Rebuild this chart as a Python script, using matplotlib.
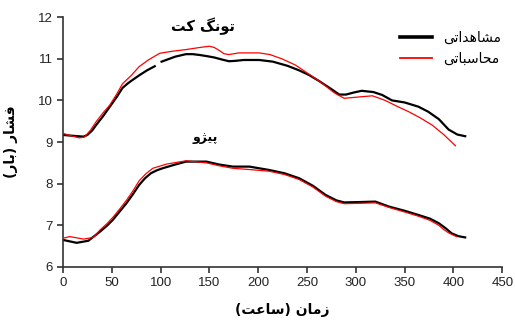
import numpy as np
import matplotlib
matplotlib.use("Agg")
import matplotlib.pyplot as plt

plt.rcParams['font.family'] = ['Liberation Sans', 'DejaVu Sans']

# Persian labels written in visual (shaped, left-to-right) order because
# matplotlib does no Arabic shaping / bidi on its own
xlabel_txt = "(\ufe96\ufecb\ufe8e\ufeb3) \ufee5\ufe8e\ufee3\ufeaf"       # زمان (ساعت)
ylabel_txt = "(\ufead\ufe8e\ufe91) \ufead\ufe8e\ufeb8\ufed3"              # فشار (بار)
obs_label = "\ufef0\ufe97\ufe8d\ufeaa\ufeeb\ufe8e\ufeb8\ufee3"           # مشاهداتی
calc_label = "\ufef0\ufe97\ufe8e\ufe92\ufeb3\ufe8e\ufea4\ufee3"          # محاسباتی
top_name = "\ufe96\ufb90 \ufb93\ufee7\ufeee\ufe97"                        # تونگ کت
bottom_name = "\ufeed\ufb8b\ufef4\ufb58"                                  # پیژو

# upper pair of curves
top_obs_x = [0, 10, 21, 25, 30, 34, 41, 48, 55, 61, 66, 70, 78, 86, 94, 97, 101, 108,
             115, 126, 133, 140, 148, 155, 163, 170, 177, 185, 201, 215, 230, 242, 252,
             262, 275, 283, 290, 298, 306, 318, 327, 337, 350, 364, 374, 385, 395, 404, 412]
top_obs_y = [9.17, 9.15, 9.13, 9.17, 9.28, 9.41, 9.62, 9.85, 10.08, 10.3, 10.4, 10.47,
             10.6, 10.72, 10.82, np.nan, 10.93, 10.99, 11.05, 11.11, 11.11, 11.09, 11.06,
             11.03, 10.98, 10.94, 10.95, 10.97, 10.97, 10.93, 10.83, 10.72, 10.61, 10.47,
             10.27, 10.14, 10.14, 10.19, 10.23, 10.2, 10.13, 10.0, 9.95, 9.85, 9.73,
             9.55, 9.3, 9.18, 9.14]
top_calc_x = [0, 8, 17, 22, 28, 34, 41, 48, 55, 61, 70, 78, 88, 99, 112, 126, 140, 150,
              155, 160, 165, 170, 180, 191, 201, 212, 224, 238, 252, 265, 278, 288,
              302, 317, 330, 342, 354, 366, 378, 390, 402]
top_calc_y = [9.21, 9.15, 9.1, 9.12, 9.28, 9.49, 9.7, 9.89, 10.15, 10.4, 10.6, 10.81,
              10.98, 11.13, 11.18, 11.22, 11.27, 11.3, 11.27, 11.2, 11.12, 11.1, 11.14,
              11.14, 11.14, 11.1, 11.0, 10.85, 10.63, 10.42, 10.18, 10.05, 10.08, 10.11,
              10.0, 9.86, 9.73, 9.58, 9.41, 9.18, 8.91]

# lower pair of curves
bot_obs_x = [0, 14, 26, 32, 38, 45, 51, 58, 65, 72, 78, 84, 90, 96, 102, 115, 126, 147,
             160, 174, 191, 211, 227, 242, 256, 269, 280, 288, 305, 320, 334, 350,
             364, 376, 385, 392, 398, 405, 412]
bot_obs_y = [6.65, 6.58, 6.63, 6.74, 6.85, 6.99, 7.13, 7.33, 7.53, 7.76, 7.97, 8.13,
             8.25, 8.32, 8.37, 8.46, 8.53, 8.53, 8.46, 8.41, 8.41, 8.33, 8.25, 8.13,
             7.95, 7.73, 7.6, 7.55, 7.56, 7.57, 7.45, 7.35, 7.25, 7.16, 7.05, 6.93,
             6.81, 6.74, 6.71]
bot_calc_x = [0, 7, 21, 31, 38, 45, 51, 58, 65, 72, 78, 85, 92, 106, 126, 147, 160, 174,
              191, 211, 227, 242, 256, 269, 280, 288, 305, 320, 334, 350, 364, 376,
              385, 390, 395, 403]
bot_calc_y = [6.69, 6.73, 6.67, 6.71, 6.89, 7.04, 7.19, 7.39, 7.6, 7.84, 8.07, 8.24,
              8.37, 8.47, 8.55, 8.5, 8.43, 8.37, 8.34, 8.3, 8.22, 8.1, 7.92, 7.7, 7.57,
              7.52, 7.53, 7.54, 7.43, 7.32, 7.22, 7.12, 7.0, 6.9, 6.82, 6.73]

fig = plt.figure(figsize=(5.15, 3.35), dpi=100)
ax = fig.add_axes([0.1223, 0.203, 0.853, 0.746])

ax.plot(top_obs_x, top_obs_y, color='black', lw=1.6, zorder=2, label=obs_label)
ax.plot(bot_obs_x, bot_obs_y, color='black', lw=1.6, zorder=2)
ax.plot(top_calc_x, top_calc_y, color='#ff0000', lw=0.9, zorder=3, label=calc_label)
ax.plot(bot_calc_x, bot_calc_y, color='#ff0000', lw=0.9, zorder=3)

ax.text(143, 11.78, top_name, ha='center', va='center', fontsize=10.5,
        fontweight='bold', family=['DejaVu Sans'])
ax.text(146, 9.12, bottom_name, ha='center', va='center', fontsize=9,
        fontweight='bold', family=['DejaVu Sans'])

ax.set_xlim(0, 450)
ax.set_ylim(6, 12)
ax.set_xticks(range(0, 451, 50))
ax.set_yticks(range(6, 13))
for s in ['top', 'right']:
    ax.spines[s].set_visible(False)
for s in ['left', 'bottom']:
    ax.spines[s].set_color('#333333')
    ax.spines[s].set_linewidth(1.2)
ax.tick_params(direction='out', length=4, width=1.2, color='#333333',
               labelcolor='#222222', labelsize=9.5)

ax.set_xlabel(xlabel_txt, fontsize=10, fontweight='bold', family=['DejaVu Sans'], labelpad=10)
ax.set_ylabel(ylabel_txt, fontsize=10, fontweight='bold', family=['DejaVu Sans'], labelpad=14)

leg = ax.legend(loc='upper right', bbox_to_anchor=(1.025, 0.995), frameon=False,
                handlelength=2.3, prop={'family': ['DejaVu Sans'], 'size': 10})
leg.get_lines()[0].set_linewidth(2.6)
leg.get_lines()[1].set_linewidth(1.3)

fig.savefig('out.png', dpi=100)
